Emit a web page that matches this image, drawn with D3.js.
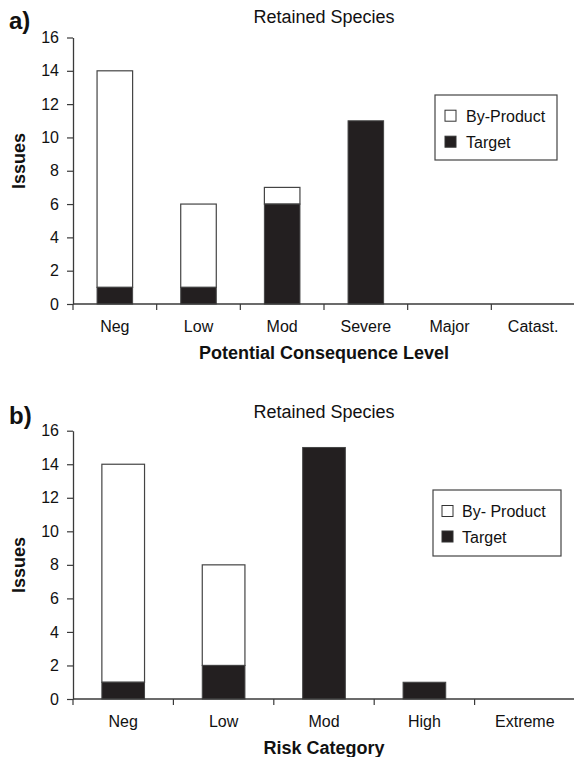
<!DOCTYPE html>
<html>
<head>
<meta charset="utf-8">
<script src="https://cdn.jsdelivr.net/npm/d3@7"></script>
<style>
  body { margin: 0; background: #fff; }
  svg { display: block; font-family: "Liberation Sans", Arial, sans-serif; }
</style>
</head>
<body>
<svg id="chart" width="574" height="757"></svg>
<script>
// ---- Data ----
const titleText = "Retained Species";
const yTicks = [0, 2, 4, 6, 8, 10, 12, 14, 16];

const catsA = ["Neg", "Low", "Mod", "Severe", "Major", "Catast."];
const targetA = [1, 1, 6, 11, 0, 0];
const byProductA = [13, 5, 1, 0, 0, 0];

const catsB = ["Neg", "Low", "Mod", "High", "Extreme"];
const targetB = [1, 2, 15, 1, 0];
const byProductB = [13, 6, 0, 0, 0];

const svg = d3.select("#chart");
const DARK = "#231f20";
const AXIS = "#3a3a3a";
const PAD = 0.575;

function drawPanel(cfg) {
  const g = svg.append("g");
  const x = d3.scaleBand().domain(cfg.cats).range([73, 575])
    .paddingInner(PAD).paddingOuter(PAD / 2);
  const y = d3.scaleLinear().domain([0, 16]).range([cfg.y0, cfg.y16]);

  // bars
  const rows = cfg.cats.map((c, i) => ({ c, t: cfg.target[i], b: cfg.by[i] }));
  g.selectAll("rect.by").data(rows.filter(d => d.b > 0)).join("rect")
    .attr("x", d => x(d.c)).attr("width", x.bandwidth())
    .attr("y", d => y(d.t + d.b)).attr("height", d => y(d.t) - y(d.t + d.b))
    .attr("fill", "#fff").attr("stroke", "#444").attr("stroke-width", 1.2);
  g.selectAll("rect.t").data(rows.filter(d => d.t > 0)).join("rect")
    .attr("x", d => x(d.c)).attr("width", x.bandwidth())
    .attr("y", d => y(d.t)).attr("height", d => y(0) - y(d.t))
    .attr("fill", DARK).attr("stroke", "#444").attr("stroke-width", 1);

  // y axis
  const ya = g.append("g").attr("transform", "translate(73,0)")
    .call(d3.axisLeft(y).tickValues(yTicks).tickSize(6).tickSizeOuter(0).tickPadding(8));
  ya.select(".domain").attr("stroke", AXIS).attr("stroke-width", 1.3);
  ya.selectAll(".tick line").attr("stroke", AXIS).attr("stroke-width", 1.2);
  ya.selectAll(".tick text").attr("font-size", 16).attr("fill", "#111")
    .attr("font-family", "Liberation Sans, Arial, sans-serif");

  // x axis (labels at band centers, ticks at band boundaries)
  const xa = g.append("g").attr("transform", `translate(0,${cfg.y0})`)
    .call(d3.axisBottom(x).tickSize(0).tickSizeOuter(0).tickPadding(12));
  xa.select(".domain").attr("stroke", AXIS).attr("stroke-width", 1.3)
    .attr("d", `M73,0H575`);
  xa.selectAll(".tick text").attr("font-size", 16).attr("fill", "#111")
    .attr("font-family", "Liberation Sans, Arial, sans-serif")
    .attr("y", 0).attr("dy", null).attr("dominant-baseline", "alphabetic")
    .attr("transform", "translate(0,27.7)");
  const bounds = cfg.cats.map(c => x(c) - x.step() * PAD / 2);
  g.selectAll("line.xt").data(bounds).join("line")
    .attr("x1", d => d).attr("x2", d => d)
    .attr("y1", cfg.y0).attr("y2", cfg.y0 + 6)
    .attr("stroke", AXIS).attr("stroke-width", 1.2);

  // titles
  g.append("text").attr("x", 324).attr("y", cfg.y0 - 281)
    .attr("text-anchor", "middle").attr("font-size", 18).attr("fill", "#111")
    .text(titleText);
  g.append("text").attr("x", 9).attr("y", cfg.y0 - 275)
    .attr("font-size", 24).attr("font-weight", "bold").attr("fill", "#111")
    .text(cfg.letter);
  g.append("text").attr("x", 324).attr("y", cfg.y0 + 55.3)
    .attr("text-anchor", "middle").attr("font-size", 18).attr("font-weight", "bold")
    .attr("fill", "#111").text(cfg.xTitle);
  g.append("text")
    .attr("transform", `translate(25,${cfg.yLabelMid}) rotate(-90)`)
    .attr("text-anchor", "middle").attr("font-size", 18).attr("font-weight", "bold")
    .attr("fill", "#111").text("Issues");

  // legend
  const L = cfg.legend;
  g.append("rect").attr("x", L.x).attr("y", L.y).attr("width", L.w).attr("height", L.h)
    .attr("fill", "#fff").attr("stroke", "#444").attr("stroke-width", 1.2);
  const items = [{ name: cfg.byName, fill: "#fff" }, { name: "Target", fill: DARK }];
  items.forEach((it, i) => {
    const cy = L.y + L.first + i * L.gap;
    g.append("rect").attr("x", L.x + L.sq).attr("y", cy - 5.5).attr("width", 11).attr("height", 11)
      .attr("fill", it.fill).attr("stroke", "#333").attr("stroke-width", 1);
    g.append("text").attr("x", L.x + L.tx).attr("y", cy + 6)
      .attr("font-size", 16).attr("fill", "#111").text(it.name);
  });
}

drawPanel({
  cats: catsA, target: targetA, by: byProductA,
  y0: 304, y16: 37.5, letter: "a)", xTitle: "Potential Consequence Level",
  yLabelMid: 161, byName: "By-Product",
  legend: { x: 435, y: 95, w: 122, h: 65, first: 20.7, gap: 26, sq: 10, tx: 31 }
});
drawPanel({
  cats: catsB, target: targetB, by: byProductB,
  y0: 699, y16: 430.7, letter: "b)", xTitle: "Risk Category",
  yLabelMid: 565, byName: "By- Product",
  legend: { x: 433, y: 490, w: 128, h: 66, first: 21, gap: 25.5, sq: 9, tx: 29 }
});
</script>
</body>
</html>
